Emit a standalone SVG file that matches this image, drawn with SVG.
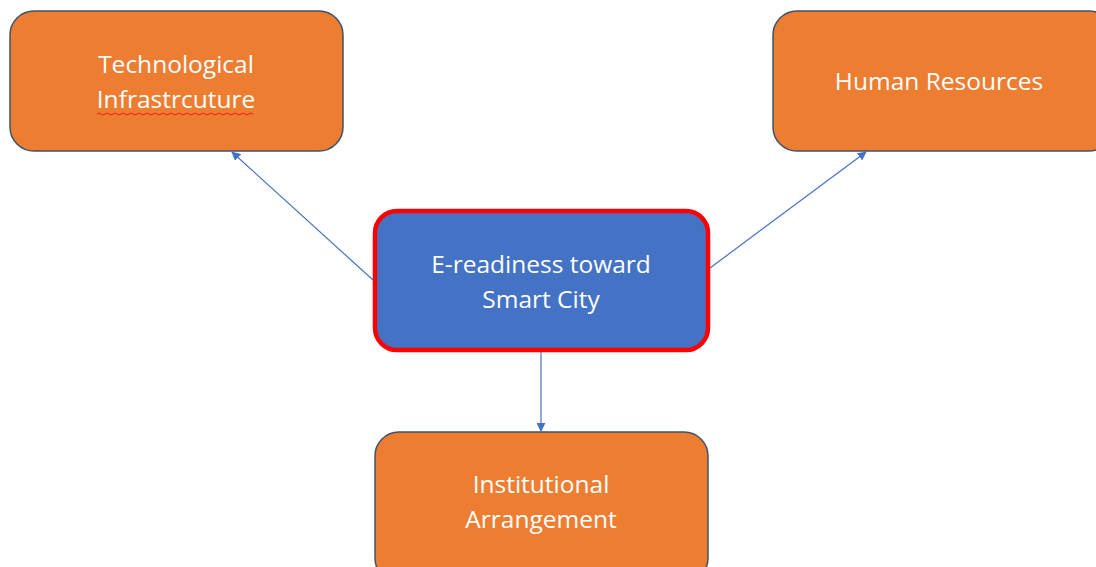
<svg xmlns="http://www.w3.org/2000/svg" width="1096" height="567" viewBox="0 0 1096 567">
<style>
.box{fill:#ED7D31;stroke:#41516B;stroke-width:1.5}
.center{fill:#4472C4;stroke:#FF0000;stroke-width:4.5}
.lbl{font-family:"Open Sans","Liberation Sans",sans-serif;font-size:24.5px;fill:#FFFFFF;text-anchor:middle}
.conn{stroke:#4472C4;stroke-width:1.2;fill:none;marker-end:url(#ah)}
</style>
<defs>
<marker id="ah" viewBox="0 0 10 10" refX="9" refY="5" markerWidth="9" markerHeight="9" markerUnits="userSpaceOnUse" orient="auto">
<path d="M0,0 L10,5 L0,10 z" fill="#4472C4"/>
</marker>
</defs>
<rect width="1096" height="567" fill="#FFFFFF"/>
<g id="connectors">
<line class="conn" x1="373" y1="280" x2="232" y2="152"/>
<line class="conn" x1="710" y1="268" x2="866" y2="152"/>
<line class="conn" x1="541" y1="352" x2="541" y2="431"/>
</g>
<g id="tech">
<rect class="box" x="10" y="11" width="333" height="140" rx="24"/>
<text class="lbl" x="176" y="73">Technological</text>
<text class="lbl" x="176" y="108">Infrastrcuture</text>
<path d="M97,114 q2,-2 4,0 t4,0 t4,0 t4,0 t4,0 t4,0 t4,0 t4,0 t4,0 t4,0 t4,0 t4,0 t4,0 t4,0 t4,0 t4,0 t4,0 t4,0 t4,0 t4,0 t4,0 t4,0 t4,0 t4,0 t4,0 t4,0 t4,0 t4,0 t4,0 t4,0 t4,0 t4,0 t4,0 t4,0 t4,0 t4,0 t4,0 t4,0 t4,0" fill="none" stroke="#FF0000" stroke-width="0.8"/>
</g>
<g id="human">
<rect class="box" x="773" y="11" width="340" height="140" rx="24"/>
<text class="lbl" x="939" y="90">Human Resources</text>
</g>
<g id="ereadiness">
<rect class="center" x="375" y="211" width="333" height="139" rx="22"/>
<text class="lbl" x="541" y="273">E-readiness toward</text>
<text class="lbl" x="541" y="308">Smart City</text>
</g>
<g id="institutional">
<rect class="box" x="375" y="432" width="333" height="150" rx="24"/>
<text class="lbl" x="541" y="493">Institutional</text>
<text class="lbl" x="541" y="528">Arrangement</text>
</g>
</svg>
